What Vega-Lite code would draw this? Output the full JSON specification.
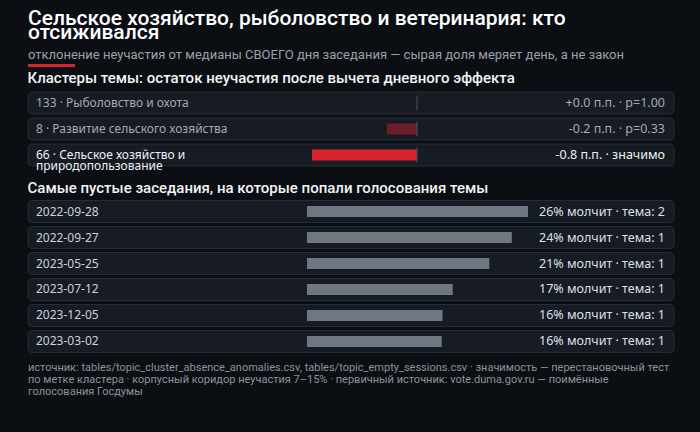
{
  "$schema": "https://vega.github.io/schema/vega-lite/v6.json",
  "background": "#0b0e13",
  "padding": {"left": 27, "right": 27, "top": 8, "bottom": 0},
  "title": {
    "text": ["Сельское хозяйство, рыболовство и ветеринария: кто", "отсиживался"],
    "subtitle": "отклонение неучастия от медианы СВОЕГО дня заседания — сырая доля меряет день, а не закон",
    "anchor": "start",
    "frame": "group",
    "color": "#ffffff",
    "font": "Roboto",
    "fontSize": 21,
    "fontWeight": 500,
    "lineHeight": 14,
    "subtitleColor": "#9aa1ab",
    "subtitleFont": "Roboto",
    "subtitleFontSize": 13,
    "subtitleFontWeight": 400,
    "subtitlePadding": 6,
    "offset": 2
  },
  "spacing": 8.5,
  "vconcat": [
    {
      "spacing": 4,
      "vconcat": [
        {
          "width": 47,
          "height": 3,
          "data": {"values": [{"accent": 1}]},
          "mark": {"type": "rect", "color": "#d7252f"},
          "encoding": {}
        },
        {
          "width": 646,
          "height": 74,
          "title": {
            "text": "Кластеры темы: остаток неучастия после вычета дневного эффекта",
            "anchor": "start",
            "font": "Roboto",
            "fontSize": 15,
            "fontWeight": 500,
            "color": "#f2f3f5",
            "offset": 5.5
          },
          "data": {
            "values": [
              {"cluster": "133 · Рыболовство и охота", "delta": 0.0, "label": "+0.0 п.п. · p=1.00", "tone": "muted"},
              {"cluster": "8 · Развитие сельского хозяйства", "delta": -0.23, "label": "-0.2 п.п. · p=0.33", "tone": "muted"},
              {"cluster": "66 · Сельское хозяйство и\nприродопользование", "delta": -0.8, "label": "-0.8 п.п. · значимо", "tone": "strong"}
            ]
          },
          "encoding": {
            "y": {"field": "cluster", "type": "nominal", "sort": null, "axis": null, "scale": {"paddingInner": 0.1538, "paddingOuter": 0}}
          },
          "layer": [
            {
              "mark": {"type": "rect", "fill": "#161b24", "stroke": "#272d38", "strokeWidth": 1, "cornerRadius": 4},
              "encoding": {
                "x": {"datum": -2.964, "type": "quantitative", "scale": {"domain": [-2.964, 1.958], "nice": false, "zero": false}, "axis": null},
                "x2": {"datum": 1.958}
              }
            },
            {
              "mark": {"type": "bar", "height": 11},
              "encoding": {
                "x": {"field": "delta", "type": "quantitative"},
                "x2": {"datum": 0},
                "color": {"field": "tone", "type": "nominal", "scale": {"domain": ["muted", "strong"], "range": ["#6a1f28", "#d8232d"]}, "legend": null}
              }
            },
            {
              "mark": {"type": "tick", "color": "#4a515c", "thickness": 1.5, "size": 15},
              "encoding": {"x": {"datum": 0, "type": "quantitative"}}
            },
            {
              "mark": {"type": "text", "align": "left", "baseline": "middle", "dx": 8, "font": "Noto Sans", "fontSize": 12, "lineBreak": "\n", "lineHeight": 11},
              "encoding": {
                "x": {"datum": -2.964, "type": "quantitative"},
                "text": {"field": "cluster"},
                "fill": {"field": "tone", "type": "nominal", "scale": {"domain": ["muted", "strong"], "range": ["#a4aab3", "#f0f1f3"]}, "legend": null}
              }
            },
            {
              "mark": {"type": "text", "align": "right", "baseline": "middle", "dx": -9, "font": "Noto Sans", "fontSize": 12.5},
              "encoding": {
                "x": {"datum": 1.958, "type": "quantitative"},
                "text": {"field": "label"},
                "fill": {"field": "tone", "type": "nominal", "legend": null}
              }
            }
          ]
        }
      ]
    },
    {
      "width": 646,
      "height": 152,
      "title": {
        "text": "Самые пустые заседания, на которые попали голосования темы",
        "anchor": "start",
        "font": "Roboto",
        "fontSize": 15,
        "fontWeight": 500,
        "color": "#f2f3f5",
        "offset": 4
      },
      "data": {
        "values": [
          {"date": "2022-09-28", "pct": 26.0, "label": "26% молчит · тема: 2"},
          {"date": "2022-09-27", "pct": 24.1, "label": "24% молчит · тема: 1"},
          {"date": "2023-05-25", "pct": 21.45, "label": "21% молчит · тема: 1"},
          {"date": "2023-07-12", "pct": 17.15, "label": "17% молчит · тема: 1"},
          {"date": "2023-12-05", "pct": 15.95, "label": "16% молчит · тема: 1"},
          {"date": "2023-03-02", "pct": 15.85, "label": "16% молчит · тема: 1"}
        ]
      },
      "encoding": {
        "y": {"field": "date", "type": "nominal", "sort": null, "axis": null, "scale": {"paddingInner": 0.1538, "paddingOuter": 0}}
      },
      "layer": [
        {
          "mark": {"type": "rect", "fill": "#161b24", "stroke": "#272d38", "strokeWidth": 1, "cornerRadius": 4},
          "encoding": {
            "x": {"datum": -32.82, "type": "quantitative", "scale": {"domain": [-32.82, 43.18], "nice": false, "zero": false}, "axis": null},
            "x2": {"datum": 43.18}
          }
        },
        {
          "mark": {"type": "bar", "height": 11, "color": "#6e7782"},
          "encoding": {
            "x": {"field": "pct", "type": "quantitative"},
            "x2": {"datum": 0}
          }
        },
        {
          "mark": {"type": "text", "align": "left", "baseline": "middle", "dx": 8, "font": "Noto Sans", "fontSize": 12, "color": "#cdd1d7"},
          "encoding": {
            "x": {"datum": -32.82, "type": "quantitative"},
            "text": {"field": "date"}
          }
        },
        {
          "mark": {"type": "text", "align": "right", "baseline": "middle", "dx": -9, "font": "Noto Sans", "fontSize": 12.5, "color": "#dde0e5"},
          "encoding": {
            "x": {"datum": 43.18, "type": "quantitative"},
            "text": {"field": "label"}
          }
        }
      ]
    },
    {
      "width": 646,
      "height": 86,
      "data": {
        "values": [
          {"note": "источник: tables/topic_cluster_absence_anomalies.csv, tables/topic_empty_sessions.csv · значимость — перестановочный тест\nпо метке кластера · корпусный коридор неучастия 7–15% · первичный источник: vote.duma.gov.ru — поимённые\nголосования Госдумы"}
        ]
      },
      "mark": {"type": "text", "align": "left", "baseline": "top", "dy": 0, "font": "Roboto", "fontSize": 11, "lineBreak": "\n", "lineHeight": 12, "color": "#8d939c"},
      "encoding": {
        "x": {"datum": 0, "type": "quantitative", "scale": {"domain": [0, 1]}, "axis": null},
        "y": {"datum": 1, "type": "quantitative", "scale": {"domain": [0, 1]}, "axis": null},
        "text": {"field": "note"}
      }
    }
  ],
  "config": {
    "view": {"stroke": null}
  }
}
